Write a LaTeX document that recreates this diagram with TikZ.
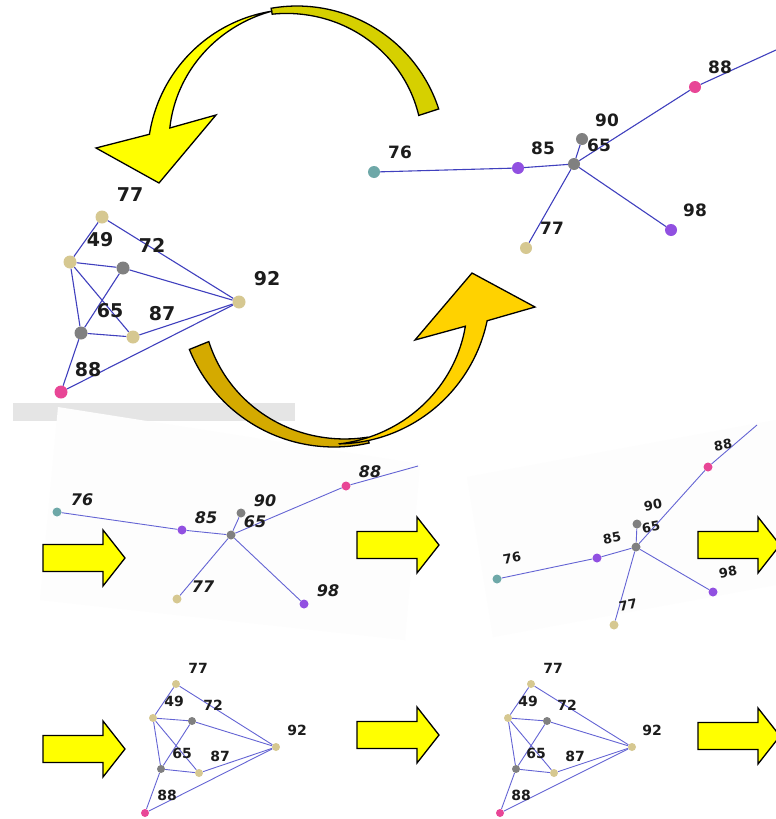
\documentclass[tikz,border=0pt]{standalone}
\usepackage{fontspec}
\setmainfont{DejaVu Sans}
\definecolor{edgeA}{RGB}{64,64,190}
\definecolor{edgeB}{RGB}{100,100,212}
\definecolor{tanC}{RGB}{214,200,145}
\definecolor{grayC}{RGB}{128,128,128}
\definecolor{pinkC}{RGB}{232,70,150}
\definecolor{purpC}{RGB}{145,80,225}
\definecolor{tealC}{RGB}{110,168,168}
\definecolor{txtC}{RGB}{28,28,28}
\definecolor{arrowY}{RGB}{255,255,0}
\definecolor{topDark}{RGB}{214,208,0}
\definecolor{botLight}{RGB}{255,210,0}
\definecolor{botDark}{RGB}{212,170,0}
\definecolor{bandC}{RGB}{229,229,229}
\definecolor{planeC}{RGB}{253,253,253}
\begin{document}
\begin{tikzpicture}[x=1pt,y=-1pt,
  dotA/.style={circle,inner sep=0pt,minimum size=13pt},
  dotB/.style={circle,inner sep=0pt,minimum size=12pt},
  dotC/.style={circle,inner sep=0pt,minimum size=9pt},
  dotD/.style={circle,inner sep=0pt,minimum size=8pt},
  lineA/.style={draw=edgeA,line width=1.1pt},
  lineB/.style={draw=edgeB,line width=0.9pt},
  lblA/.style={text=txtC,font=\fontsize{19}{19}\selectfont\bfseries,inner sep=0pt},
  lblB/.style={text=txtC,font=\fontsize{17}{17}\selectfont\bfseries,inner sep=0pt},
  lblC/.style={text=txtC,font=\fontsize{16}{16}\selectfont\bfseries\itshape,inner sep=0pt},
  lblD/.style={text=txtC,font=\fontsize{13}{13}\selectfont\bfseries,inner sep=0pt,rotate=10},
  lblE/.style={text=txtC,font=\fontsize{14}{14}\selectfont\bfseries,inner sep=0pt},
  blockline/.style={draw=black,line width=1.3pt,line join=miter},
  pics/rblock/.style={code={\draw[blockline,fill=arrowY] (0,-13.5) -- (60,-13.5) -- (60,-28) -- (82,0) -- (60,28) -- (60,13.5) -- (0,13.5) -- cycle;}},
]
\useasboundingbox (0,0) rectangle (776,819);
\clip (0,0) rectangle (776,819);
\fill[white] (0,0) rectangle (776,819);

% background planes and band
\fill[bandC] (13,403) rectangle (295,421);
\fill[planeC] (58,407) -- (420,464) -- (405,640) -- (40,600) -- cycle;
\fill[planeC] (467,477) -- (776,420) -- (776,585) -- (493,637) -- cycle;

% top curved arrow
\draw[blockline,fill=topDark]
  plot[domain=18:100,samples=50] ({297+149*cos(\x)},{155-149*sin(\x)})
  -- plot[domain=100:18,samples=50] ({297+(128+15*(\x-18)/82)*cos(\x)},{155-(128+15*(\x-18)/82)*sin(\x)})
  -- cycle;
\draw[blockline,fill=arrowY]
  plot[domain=100:172,samples=50] ({297+(146+3*(\x-100)/72)*cos(\x)},{155-(146+3*(\x-100)/72)*sin(\x)})
  -- (96,148) -- (159,183) -- (216,115)
  -- plot[domain=168:100,samples=50] ({297+(146-16*(\x-100)/68)*cos(\x)},{155-(146-16*(\x-100)/68)*sin(\x)})
  -- cycle;

% bottom curved arrow
\draw[blockline,fill=botDark]
  plot[domain=202:283,samples=50] ({334+156*cos(\x)},{291-156*sin(\x)})
  -- plot[domain=283:202,samples=50] ({334+(135+15*(\x-202)/81)*cos(\x)},{291-(135+15*(\x-202)/81)*sin(\x)})
  -- cycle;
\draw[blockline,fill=botLight]
  plot[domain=272:349,samples=50] ({334+(153+3*(\x-272)/77)*cos(\x)},{291-(153+3*(\x-272)/77)*sin(\x)})
  -- (535,307) -- (472,273) -- (415,340)
  -- plot[domain=345:272,samples=50] ({334+(153-17*(\x-272)/73)*cos(\x)},{291-(153-17*(\x-272)/73)*sin(\x)})
  -- cycle;

% straight arrows
\pic (m1) at (43,558) {rblock};
\pic (m2) at (357,545) {rblock};
\pic (m3) at (698,545) {rblock};
\pic (b1) at (43,749) {rblock};
\pic (b2) at (357,735) {rblock};
\pic (b3) at (698,736) {rblock};

% ---------- top-left graph ----------
\foreach \n/\px/\py in {77/102/217,49/70/262,72/123/268,92/239/302,65/81/333,87/133/337,88/61/392}
  \node[dotA] (a\n) at (\px,\py) {};
\foreach \s/\t in {77/49,77/92,49/72,49/65,49/87,72/65,72/92,65/87,65/88,87/92,88/92}
  \draw[lineA] (a\s) -- (a\t);
\foreach \n/\c in {77/tanC,49/tanC,72/grayC,92/tanC,65/grayC,87/tanC,88/pinkC}
  \fill[\c] (a\n) circle (6.5pt);
\foreach \n/\px/\py in {77/130/195,49/100/240,72/152/245,92/267/279,65/110/311,87/162/314,88/88/370}
  \node[lblA] (a\n l) at (\px,\py) {\n};

% ---------- top-right graph ----------
\coordinate (bEnd) at (776,50);
\foreach \n/\px/\py in {76/374/172,85/518/168,65/574/164,90/582/139,88/695/87,98/671/230,77/526/248}
  \node[dotB] (b\n) at (\px,\py) {};
\foreach \s/\t in {76/85,85/65,65/90,65/88,65/98,65/77}
  \draw[lineA] (b\s) -- (b\t);
\draw[lineA] (b88) -- (bEnd);
\foreach \n/\c in {76/tealC,85/purpC,65/grayC,90/grayC,88/pinkC,98/purpC,77/tanC}
  \fill[\c] (b\n) circle (6pt);
\foreach \n/\px/\py in {76/400/152,85/543/148,65/599/145,90/607/120,88/720/67,98/695/210,77/552/228}
  \node[lblB] (b\n l) at (\px,\py) {\n};

% ---------- middle-left graph ----------
\coordinate (cEnd) at (418,466);
\foreach \n/\px/\py in {76/57/512,85/182/530,65/231/535,90/241/513,88/346/486,98/304/604,77/177/599}
  \node[dotC] (c\n) at (\px,\py) {};
\foreach \s/\t in {76/85,85/65,65/90,65/88,65/98,65/77}
  \draw[lineB] (c\s) -- (c\t);
\draw[lineB] (c88) -- (cEnd);
\foreach \n/\c in {76/tealC,85/purpC,65/grayC,90/grayC,88/pinkC,98/purpC,77/tanC}
  \fill[\c] (c\n) circle (4.5pt);
\foreach \n/\px/\py in {76/82/500,85/206/518,65/255/522,90/265/501,88/370/472,98/328/591,77/203/587}
  \node[lblC] (c\n l) at (\px,\py) {\n};

% ---------- middle-right graph ----------
\coordinate (dEnd) at (757,425);
\foreach \n/\px/\py in {76/497/579,85/597/558,65/636/547,90/637/524,88/708/467,98/713/592,77/614/625}
  \node[dotC] (d\n) at (\px,\py) {};
\foreach \s/\t in {76/85,85/65,65/90,65/88,65/98,65/77}
  \draw[lineB] (d\s) -- (d\t);
\draw[lineB] (d88) -- (dEnd);
\foreach \n/\c in {76/tealC,85/purpC,65/grayC,90/grayC,88/pinkC,98/purpC,77/tanC}
  \fill[\c] (d\n) circle (4.5pt);
\foreach \n/\px/\py in {76/512/558,85/612/538,65/651/527,90/653/505,88/723/445,98/728/572,77/628/605}
  \node[lblD] (d\n l) at (\px,\py) {\n};

% ---------- bottom-left graph ----------
\foreach \n/\px/\py in {77/176/684,49/153/718,72/192/721,92/276/747,65/161/769,87/199/773,88/145/813}
  \node[dotD] (e\n) at (\px,\py) {};
\foreach \s/\t in {77/49,77/92,49/72,49/65,49/87,72/65,72/92,65/87,65/88,87/92,88/92}
  \draw[lineB] (e\s) -- (e\t);
\foreach \n/\c in {77/tanC,49/tanC,72/grayC,92/tanC,65/grayC,87/tanC,88/pinkC}
  \fill[\c] (e\n) circle (4pt);
\foreach \n/\px/\py in {77/198/668,49/174/701,72/213/705,92/297/730,65/182/753,87/220/756,88/167/795}
  \node[lblE] (e\n l) at (\px,\py) {\n};

% ---------- bottom-right graph ----------
\foreach \n/\px/\py in {77/531/684,49/508/718,72/547/721,92/632/747,65/516/769,87/554/773,88/500/813}
  \node[dotD] (f\n) at (\px,\py) {};
\foreach \s/\t in {77/49,77/92,49/72,49/65,49/87,72/65,72/92,65/87,65/88,87/92,88/92}
  \draw[lineB] (f\s) -- (f\t);
\foreach \n/\c in {77/tanC,49/tanC,72/grayC,92/tanC,65/grayC,87/tanC,88/pinkC}
  \fill[\c] (f\n) circle (4pt);
\foreach \n/\px/\py in {77/553/668,49/528/701,72/567/705,92/652/730,65/536/753,87/575/756,88/521/795}
  \node[lblE] (f\n l) at (\px,\py) {\n};
\end{tikzpicture}
\end{document}
